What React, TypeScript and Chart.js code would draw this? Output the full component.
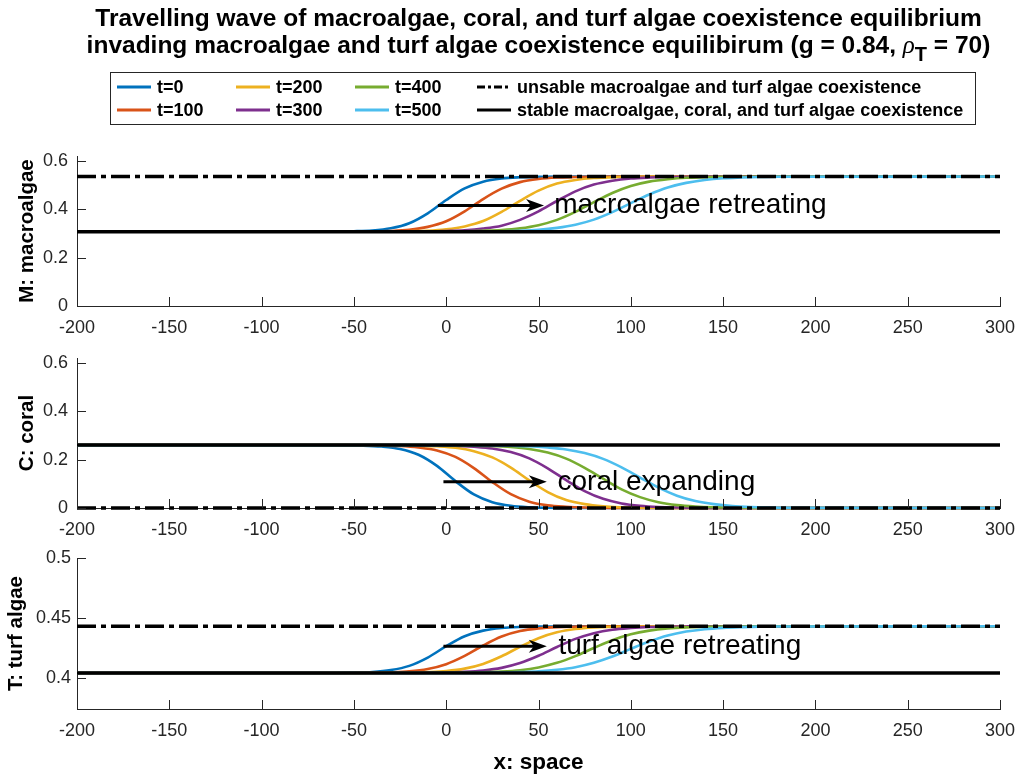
import React, { useEffect, useRef } from 'react';
import { Chart, registerables } from 'chart.js';

Chart.register(...registerables);

const FONT = '"Liberation Sans", Arial, Helvetica, sans-serif';
const AXIS_COLOR = '#262626';

// ---------- data ----------
const xTicks = [-200, -150, -100, -50, 0, 50, 100, 150, 200, 250, 300];
const mTicks = [0, 0.2, 0.4, 0.6];
const cTicks = [0, 0.2, 0.4, 0.6];
const tTicks = [0.4, 0.45, 0.5];

const timeLabels = ['t=0', 't=100', 't=200', 't=300', 't=400', 't=500'];
const timeColors = ['#0072BD', '#D95319', '#EDB120', '#7E2F8E', '#77AC30', '#4DBEEE'];
const eqLabels = [
  'unsable macroalgae and turf algae coexistence',
  'stable macroalgae, coral, and turf algae coexistence',
];

const titleLine1 = 'Travelling wave of macroalgae, coral, and turf algae coexistence equilibrium';
const titleLine2Start = 'invading macroalgae and turf algae coexistence equilibirum (g = 0.84, ';
const titleRho = 'ρ';
const titleSub = 'T';
const titleLine2End = ' = 70)';

// sample positions along x (space)
const xGrid = [-200, -60, -50, -40, -30, -20, -10, 0, 10, 20, 30, 40, 50, 60, 70, 80, 90, 100, 110, 120, 130, 140, 150, 160, 170, 180, 300];
const xGridC = [-200, -55, -45, -35, -25, -15, -5, 5, 15, 25, 35, 45, 55, 65, 75, 85, 95, 105, 115, 125, 135, 145, 155, 165, 175, 185, 300];

// equilibria
const mStable = 0.307;
const mUnstable = 0.535;
const cStable = 0.26;
const cUnstable = 0;
const tStable = 0.404;
const tUnstable = 0.443;

// M: macroalgae
const mT0 = [0.307, 0.308, 0.309, 0.312, 0.321, 0.342, 0.383, 0.438, 0.486, 0.514, 0.527, 0.532, 0.534, 0.535, 0.535, 0.535, 0.535, 0.535, 0.535, 0.535, 0.535, 0.535, 0.535, 0.535, 0.535, 0.535, 0.535];
const mT100 = [0.307, 0.307, 0.308, 0.308, 0.310, 0.315, 0.327, 0.350, 0.391, 0.442, 0.485, 0.512, 0.525, 0.531, 0.533, 0.534, 0.535, 0.535, 0.535, 0.535, 0.535, 0.535, 0.535, 0.535, 0.535, 0.535, 0.535];
const mT200 = [0.307, 0.307, 0.307, 0.307, 0.308, 0.309, 0.311, 0.317, 0.329, 0.351, 0.389, 0.435, 0.477, 0.506, 0.521, 0.529, 0.532, 0.534, 0.535, 0.535, 0.535, 0.535, 0.535, 0.535, 0.535, 0.535, 0.535];
const mT300 = [0.307, 0.307, 0.307, 0.307, 0.307, 0.308, 0.308, 0.310, 0.313, 0.320, 0.332, 0.356, 0.391, 0.434, 0.474, 0.502, 0.518, 0.527, 0.531, 0.533, 0.534, 0.535, 0.535, 0.535, 0.535, 0.535, 0.535];
const mT400 = [0.307, 0.307, 0.307, 0.307, 0.307, 0.307, 0.307, 0.308, 0.309, 0.311, 0.314, 0.321, 0.334, 0.356, 0.389, 0.429, 0.467, 0.496, 0.514, 0.524, 0.530, 0.532, 0.534, 0.534, 0.535, 0.535, 0.535];
const mT500 = [0.307, 0.307, 0.307, 0.307, 0.307, 0.307, 0.307, 0.307, 0.308, 0.308, 0.309, 0.311, 0.315, 0.323, 0.336, 0.357, 0.388, 0.425, 0.461, 0.490, 0.509, 0.521, 0.528, 0.531, 0.533, 0.534, 0.535];

// C: coral
const cT0 = [0.260, 0.259, 0.258, 0.254, 0.244, 0.220, 0.174, 0.111, 0.056, 0.024, 0.009, 0.003, 0.001, 0, 0, 0, 0, 0, 0, 0, 0, 0, 0, 0, 0, 0, 0];
const cT100 = [0.260, 0.260, 0.259, 0.258, 0.256, 0.250, 0.238, 0.211, 0.165, 0.107, 0.057, 0.026, 0.011, 0.005, 0.002, 0.001, 0, 0, 0, 0, 0, 0, 0, 0, 0, 0, 0];
const cT200 = [0.260, 0.260, 0.260, 0.260, 0.259, 0.258, 0.255, 0.249, 0.235, 0.209, 0.167, 0.114, 0.066, 0.033, 0.016, 0.007, 0.003, 0.001, 0.001, 0, 0, 0, 0, 0, 0, 0, 0];
const cT300 = [0.260, 0.260, 0.260, 0.260, 0.260, 0.259, 0.258, 0.257, 0.253, 0.246, 0.231, 0.205, 0.164, 0.115, 0.070, 0.038, 0.019, 0.009, 0.004, 0.002, 0.001, 0, 0, 0, 0, 0, 0];
const cT400 = [0.260, 0.260, 0.260, 0.260, 0.260, 0.260, 0.259, 0.259, 0.258, 0.256, 0.252, 0.244, 0.229, 0.204, 0.166, 0.121, 0.077, 0.045, 0.024, 0.012, 0.006, 0.003, 0.002, 0.001, 0, 0, 0];
const cT500 = [0.260, 0.260, 0.260, 0.260, 0.260, 0.260, 0.260, 0.260, 0.259, 0.259, 0.257, 0.255, 0.250, 0.242, 0.227, 0.203, 0.168, 0.126, 0.084, 0.051, 0.029, 0.016, 0.008, 0.004, 0.002, 0.001, 0];

// T: turf algae
const tT0 = [0.4040, 0.4041, 0.4044, 0.4049, 0.4065, 0.4100, 0.4169, 0.4264, 0.4347, 0.4394, 0.4416, 0.4425, 0.4428, 0.4429, 0.4430, 0.4430, 0.4430, 0.4430, 0.4430, 0.4430, 0.4430, 0.4430, 0.4430, 0.4430, 0.4430, 0.4430, 0.4430];
const tT100 = [0.4040, 0.4040, 0.4041, 0.4042, 0.4046, 0.4054, 0.4074, 0.4114, 0.4183, 0.4270, 0.4345, 0.4391, 0.4413, 0.4423, 0.4427, 0.4429, 0.4430, 0.4430, 0.4430, 0.4430, 0.4430, 0.4430, 0.4430, 0.4430, 0.4430, 0.4430, 0.4430];
const tT200 = [0.4040, 0.4040, 0.4040, 0.4041, 0.4042, 0.4043, 0.4048, 0.4057, 0.4077, 0.4116, 0.4180, 0.4259, 0.4331, 0.4380, 0.4407, 0.4420, 0.4425, 0.4428, 0.4429, 0.4430, 0.4430, 0.4430, 0.4430, 0.4430, 0.4430, 0.4430, 0.4430];
const tT300 = [0.4040, 0.4040, 0.4040, 0.4040, 0.4040, 0.4041, 0.4042, 0.4045, 0.4050, 0.4061, 0.4083, 0.4123, 0.4184, 0.4257, 0.4325, 0.4373, 0.4402, 0.4416, 0.4424, 0.4427, 0.4429, 0.4430, 0.4430, 0.4430, 0.4430, 0.4430, 0.4430];
const tT400 = [0.4040, 0.4040, 0.4040, 0.4040, 0.4040, 0.4040, 0.4041, 0.4042, 0.4043, 0.4046, 0.4052, 0.4064, 0.4087, 0.4125, 0.4181, 0.4249, 0.4314, 0.4363, 0.4394, 0.4412, 0.4421, 0.4425, 0.4428, 0.4429, 0.4430, 0.4430, 0.4430];
const tT500 = [0.4040, 0.4040, 0.4040, 0.4040, 0.4040, 0.4040, 0.4040, 0.4041, 0.4041, 0.4042, 0.4044, 0.4048, 0.4054, 0.4067, 0.4089, 0.4126, 0.4178, 0.4242, 0.4303, 0.4353, 0.4386, 0.4406, 0.4417, 0.4423, 0.4427, 0.4428, 0.4430];

// annotation arrows: [x start, x end, y]
const mArrow = [-4.5, 53, 0.415];
const cArrow = [-1.5, 54.5, 0.108];
const tArrow = [-1.5, 54.5, 0.4263];
const mNote = 'macroalgae retreating';
const cNote = 'coral expanding';
const tNote = 'turf algae retreating';
const noteX = [58.5, 60.3, 60.8];

// ---------- plugins ----------
const axisNotePlugin = {
  id: 'axisNote',
  afterDatasetsDraw(chart: any, _args: any, opts: any) {
    const { ctx, chartArea: a } = chart;
    const x = chart.scales.x;
    const y = chart.scales.y;
    ctx.save();
    // inward tick marks
    ctx.strokeStyle = AXIS_COLOR;
    ctx.lineWidth = 1;
    ctx.beginPath();
    for (const t of x.ticks) {
      const px = Math.round(x.getPixelForValue(t.value)) + 0.5;
      ctx.moveTo(px, a.bottom);
      ctx.lineTo(px, a.bottom - 9);
    }
    for (const t of y.ticks) {
      const py = Math.round(y.getPixelForValue(t.value)) + 0.5;
      ctx.moveTo(a.left, py);
      ctx.lineTo(a.left + 9, py);
    }
    ctx.stroke();
    if (opts && opts.arrow) {
      const x0 = x.getPixelForValue(opts.arrow[0]);
      const x1 = x.getPixelForValue(opts.arrow[1]);
      const py = y.getPixelForValue(opts.arrow[2]);
      const L = 18;
      const W = 13;
      ctx.strokeStyle = '#000';
      ctx.lineWidth = 3;
      ctx.beginPath();
      ctx.moveTo(x0, py);
      ctx.lineTo(x1 - L * 0.7, py);
      ctx.stroke();
      ctx.fillStyle = '#000';
      ctx.beginPath();
      ctx.moveTo(x1, py);
      ctx.lineTo(x1 - L, py - W / 2);
      ctx.lineTo(x1 - L * 0.72, py);
      ctx.lineTo(x1 - L, py + W / 2);
      ctx.closePath();
      ctx.fill();
      ctx.font = `28px ${FONT}`;
      ctx.textAlign = 'left';
      ctx.textBaseline = 'middle';
      ctx.fillText(opts.text, x.getPixelForValue(opts.textX), py);
    }
    ctx.restore();
  },
};

const headerPlugin = {
  id: 'header',
  afterDraw(chart: any, _args: any, opts: any) {
    if (!opts || !opts.show) return;
    const ctx = chart.ctx;
    const a = chart.chartArea;
    const cx = (a.left + a.right) / 2;
    ctx.save();
    ctx.fillStyle = '#000';
    ctx.textBaseline = 'alphabetic';
    ctx.textAlign = 'left';
    const bold = `bold 24.5px ${FONT}`;
    ctx.font = bold;
    const w1 = ctx.measureText(titleLine1).width;
    ctx.fillText(titleLine1, cx - w1 / 2, 26);
    const segs = [
      { t: titleLine2Start, f: bold, dy: 0 },
      { t: titleRho, f: `italic 25px "Liberation Serif", serif`, dy: 0 },
      { t: titleSub, f: `bold 20px ${FONT}`, dy: 8 },
      { t: titleLine2End, f: bold, dy: 0 },
    ];
    let total = 0;
    const widths = segs.map((s) => {
      ctx.font = s.f;
      const w = ctx.measureText(s.t).width;
      total += w;
      return w;
    });
    let xx = cx - total / 2;
    segs.forEach((s, i) => {
      ctx.font = s.f;
      ctx.fillText(s.t, xx, 53 + s.dy);
      xx += widths[i];
    });

    // legend box
    const L = 110, T = 72, R = 976, B = 125;
    ctx.fillStyle = '#fff';
    ctx.fillRect(L, T, R - L, B - T);
    ctx.strokeStyle = AXIS_COLOR;
    ctx.lineWidth = 1;
    ctx.strokeRect(L + 0.5, T + 0.5, R - L - 1, B - T - 1);
    const colX = [117, 236, 355, 477];
    const rowY = [87, 110];
    const lineLen = 34;
    ctx.font = `bold 18px ${FONT}`;
    ctx.textBaseline = 'middle';
    const items: any[] = [];
    timeLabels.forEach((lab, i) => {
      items.push({ lab, color: timeColors[i], dash: [], col: Math.floor(i / 2), row: i % 2, w: 3 });
    });
    items.push({ lab: eqLabels[0], color: '#000', dash: [8, 3, 3, 3], col: 3, row: 0, w: 3 });
    items.push({ lab: eqLabels[1], color: '#000', dash: [], col: 3, row: 1, w: 3 });
    items.forEach((it) => {
      const x0 = colX[it.col];
      const yy = rowY[it.row];
      ctx.strokeStyle = it.color;
      ctx.lineWidth = it.w;
      ctx.setLineDash(it.dash);
      ctx.beginPath();
      ctx.moveTo(x0, yy);
      ctx.lineTo(x0 + lineLen, yy);
      ctx.stroke();
      ctx.setLineDash([]);
      ctx.fillStyle = '#000';
      ctx.fillText(it.lab, x0 + lineLen + 6, yy + 1);
    });
    ctx.restore();
  },
};

// ---------- config ----------
function buildConfig(p: any) {
  const curves = p.curves
    .map((vals: number[], i: number) => ({
      label: timeLabels[i],
      data: p.xs.map((xv: number, j: number) => ({ x: xv, y: vals[j] })),
      borderColor: timeColors[i],
      borderWidth: 2.6,
      pointRadius: 0,
      fill: false,
      clip: 6,
      cubicInterpolationMode: 'monotone',
      tension: 0.4,
    }))
    .reverse();
  const xmin = xTicks[0];
  const xmax = xTicks[xTicks.length - 1];
  return {
    type: 'line',
    data: {
      datasets: [
        {
          label: eqLabels[0],
          data: [{ x: xmin, y: p.unstable }, { x: xmax, y: p.unstable }],
          borderColor: '#000',
          borderWidth: 3.5,
          borderDash: [19, 5, 5, 5],
          pointRadius: 0,
          fill: false,
          clip: 6,
        },
        {
          label: eqLabels[1],
          data: [{ x: xmin, y: p.stable }, { x: xmax, y: p.stable }],
          borderColor: '#000',
          borderWidth: 3.5,
          pointRadius: 0,
          fill: false,
          clip: 6,
        },
        ...curves,
      ],
    },
    options: {
      responsive: false,
      maintainAspectRatio: false,
      animation: false,
      devicePixelRatio: 1,
      events: [],
      layout: { padding: { top: p.padTop, right: 18, left: 0, bottom: 0 } },
      plugins: {
        legend: { display: false },
        tooltip: { enabled: false },
        title: { display: false },
        header: { show: p.header },
        axisNote: { arrow: p.arrow, text: p.note, textX: p.noteX },
      },
      scales: {
        x: {
          type: 'linear',
          min: xmin,
          max: xmax,
          afterBuildTicks: (s: any) => {
            s.ticks = xTicks.map((v) => ({ value: v }));
          },
          afterFit: (s: any) => {
            s.height = p.xAxisH;
            s.paddingLeft = 0;
            s.paddingRight = 0;
          },
          ticks: {
            autoSkip: false,
            maxRotation: 0,
            color: AXIS_COLOR,
            font: { family: FONT, size: 18 },
            padding: 11,
            callback: (v: any) => String(v),
          },
          grid: { display: false, drawTicks: false },
          border: { display: true, color: AXIS_COLOR, width: 1 },
          title: p.xTitle
            ? {
                display: true,
                text: 'x: space',
                color: '#000',
                font: { family: FONT, size: 22.5, weight: 'bold' },
                padding: { top: 0, bottom: 2 },
              }
            : { display: false },
        },
        y: {
          type: 'linear',
          min: p.yMin,
          max: p.yMax,
          afterBuildTicks: (s: any) => {
            s.ticks = p.yTicks.map((v: number) => ({ value: v }));
          },
          afterFit: (s: any) => {
            s.width = 77;
            s.paddingTop = 0;
            s.paddingBottom = 0;
          },
          ticks: {
            autoSkip: false,
            color: AXIS_COLOR,
            font: { family: FONT, size: 18 },
            padding: p.yTickPad,
            callback: (v: any) => String(v),
          },
          grid: { display: false, drawTicks: false },
          border: { display: true, color: AXIS_COLOR, width: 1 },
          title: {
            display: true,
            text: p.yLabel,
            color: '#000',
            font: { family: FONT, size: 20.5, weight: 'bold' },
            padding: { top: p.yTitlePad, bottom: 0 },
          },
        },
      },
    },
    plugins: [axisNotePlugin, headerPlugin],
  };
}

const panels = [
  {
    xs: xGrid, curves: [mT0, mT100, mT200, mT300, mT400, mT500], stable: mStable, unstable: mUnstable,
    yMin: 0, yMax: 0.62, yTicks: mTicks, yLabel: 'M: macroalgae', arrow: mArrow, note: mNote, noteX: noteX[0],
    header: true, padTop: 156, xAxisH: 34, xTitle: false, yTitlePad: 15, yTickPad: 9,
  },
  {
    xs: xGridC, curves: [cT0, cT100, cT200, cT300, cT400, cT500], stable: cStable, unstable: cUnstable,
    yMin: 0, yMax: 0.62, yTicks: cTicks, yLabel: 'C: coral', arrow: cArrow, note: cNote, noteX: noteX[1],
    header: false, padTop: 16, xAxisH: 34, xTitle: false, yTitlePad: 15, yTickPad: 9,
  },
  {
    xs: xGrid, curves: [tT0, tT100, tT200, tT300, tT400, tT500], stable: tStable, unstable: tUnstable,
    yMin: 0.374, yMax: 0.5, yTicks: tTicks, yLabel: 'T: turf algae', arrow: tArrow, note: tNote, noteX: noteX[2],
    header: false, padTop: 16, xAxisH: 69, xTitle: true, yTitlePad: 4, yTickPad: 6,
  },
];

export default function App() {
  const r1 = useRef<HTMLCanvasElement>(null);
  const r2 = useRef<HTMLCanvasElement>(null);
  const r3 = useRef<HTMLCanvasElement>(null);

  useEffect(() => {
    const refs = [r1, r2, r3];
    const charts = panels.map((p, i) => new Chart(refs[i].current as HTMLCanvasElement, buildConfig(p) as any));
    return () => charts.forEach((c) => c.destroy());
  }, []);

  return (
    <div style={{ position: 'absolute', left: 0, top: 0, width: 1018, height: 778, background: '#fff' }}>
      <canvas ref={r1} width={1018} height={340} style={{ position: 'absolute', left: 0, top: 0 }} />
      <canvas ref={r2} width={1018} height={200} style={{ position: 'absolute', left: 0, top: 342 }} />
      <canvas ref={r3} width={1018} height={236} style={{ position: 'absolute', left: 0, top: 542 }} />
    </div>
  );
}
